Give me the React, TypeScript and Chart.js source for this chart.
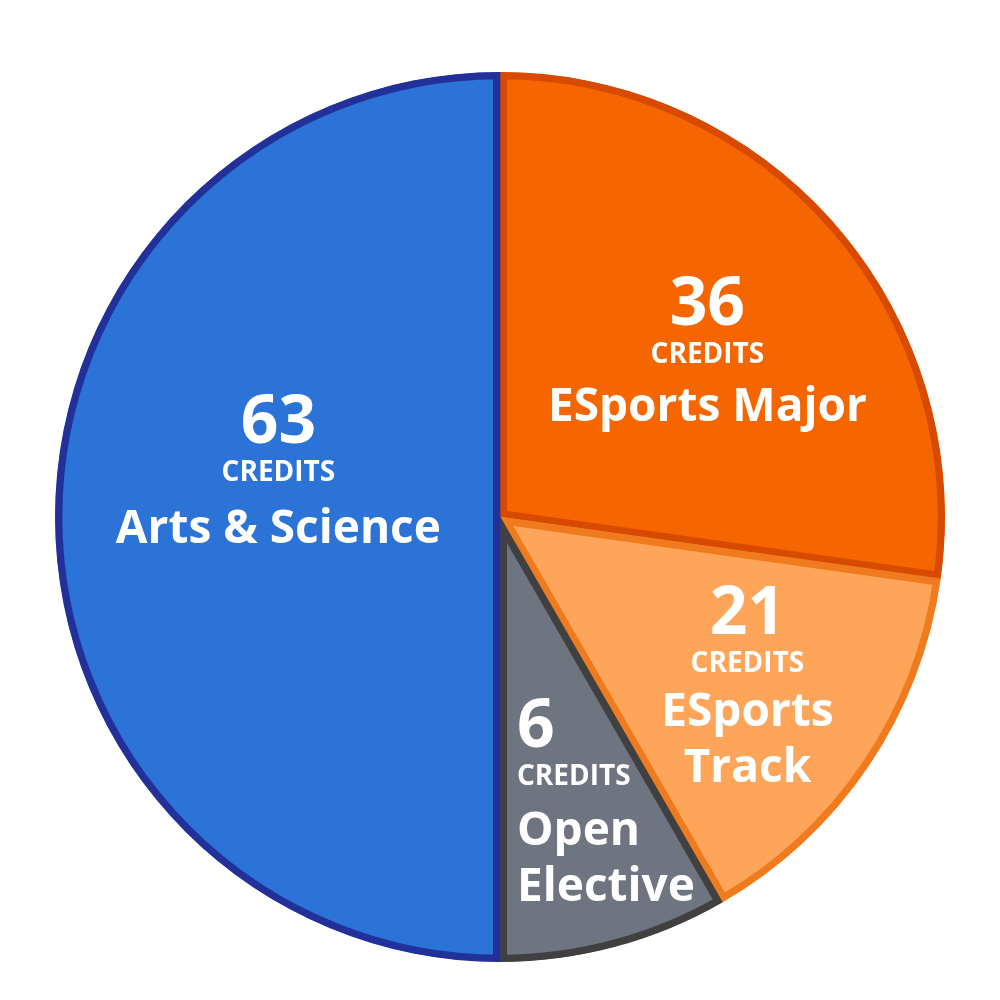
import React, { useEffect, useRef } from "react";
import { Chart, registerables } from "chart.js";

Chart.register(...registerables);

const categories = ["ESports Major", "ESports Track", "Open Elective", "Arts & Science"];
// credit numbers printed in each slice
const credits = [36, 21, 6, 63];
// slice sizes as drawn in the picture (degrees of the circle)
const sliceDegrees = [98, 52, 30, 180];
const labelLines = [["ESports Major"], ["ESports", "Track"], ["Open", "Elective"], ["Arts & Science"]];
const unitLabel = "CREDITS";

const fillColors = ["#F56600", "#FFA55A", "#6F7580", "#2B73D7"];
const borderColors = ["#D84A00", "#F07A1E", "#404040", "#22309A"];

// label anchor offsets relative to pie centre, as fractions of the radius
const labelStyle = [
  { dx: 0.466, dy: -0.473, align: "center", nameGap: 52 },
  { dx: 0.556, dy: 0.22, align: "center", nameGap: 49 },
  { dx: 0.038, dy: 0.474, align: "left", nameGap: 55 },
  { dx: -0.498, dy: -0.209, align: "center", nameGap: 57 },
];

const FONT = "'Open Sans', 'Noto Sans', sans-serif";

const labelPlugin = {
  id: "sliceLabels",
  afterDatasetsDraw(chart: any) {
    const ctx = chart.ctx;
    const meta = chart.getDatasetMeta(0);
    meta.data.forEach((arc: any, i: number) => {
      const st = labelStyle[i];
      const r = arc.outerRadius;
      const x = arc.x + st.dx * r;
      let y = arc.y + st.dy * r;
      ctx.save();
      ctx.fillStyle = "#FFFFFF";
      ctx.textAlign = st.align;
      ctx.textBaseline = "middle";
      ctx.font = `bold 66px ${FONT}`;
      ctx.fillText(String(credits[i]), x, y);
      y += 49;
      ctx.font = `bold 28px ${FONT}`;
      ctx.fillText(unitLabel, x, y);
      y += st.nameGap;
      ctx.font = `bold 46px ${FONT}`;
      labelLines[i].forEach((line, k) => {
        ctx.fillText(line, x, y + k * 56);
      });
      ctx.restore();
    });
  },
};

export default function App() {
  const ref = useRef<HTMLCanvasElement | null>(null);
  useEffect(() => {
    if (!ref.current) return;
    const chart = new Chart(ref.current, {
      type: "pie",
      data: {
        labels: categories,
        datasets: [
          {
            data: sliceDegrees,
            backgroundColor: fillColors,
            borderColor: borderColors,
            borderWidth: 7,
            borderAlign: "inner",
          } as any,
        ],
      },
      options: {
        animation: false,
        responsive: false,
        devicePixelRatio: 1,
        layout: { padding: { top: 72, bottom: 38, left: 52, right: 52 } },
        plugins: {
          legend: { display: false },
          tooltip: { enabled: false },
        },
      },
      plugins: [labelPlugin],
    });
    return () => chart.destroy();
  }, []);
  return (
    <div style={{ position: "fixed", left: 0, top: 0, width: 1000, height: 1000, background: "#FFFFFF" }}>
      <canvas ref={ref} width={1000} height={1000} style={{ width: 1000, height: 1000 }} />
    </div>
  );
}
